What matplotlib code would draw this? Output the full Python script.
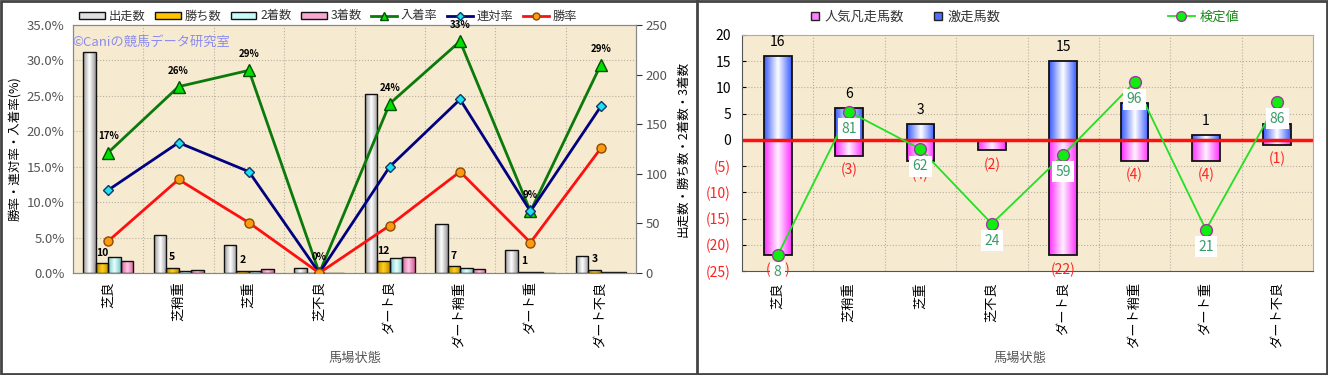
import numpy as np
import matplotlib
matplotlib.use('Agg')
import matplotlib.pyplot as plt
from matplotlib.colors import LinearSegmentedColormap
from matplotlib.lines import Line2D
from matplotlib.patches import Patch, Rectangle

plt.rcParams['font.family'] = ['Noto Sans CJK JP', 'DejaVu Sans']

# ---- data ----
baba = ['芝良', '芝稍重', '芝重', '芝不良', 'ダート良', 'ダート稍重', 'ダート重', 'ダート不良']

# left chart: counts
starts = [223, 38, 28, 5, 180, 49, 23, 17]
wins = [10, 5, 2, 0, 12, 7, 1, 3]
seconds = [16, 2, 2, 0, 15, 5, 1, 1]
thirds = [12, 3, 4, 0, 16, 4, 0, 1]
# left chart: rates (%)
win_rate = [4.5, 13.2, 7.1, 0.0, 6.7, 14.3, 4.3, 17.6]
rentai_rate = [11.7, 18.4, 14.3, 0.0, 15.0, 24.5, 8.7, 23.5]
show_rate = [17.0, 26.3, 28.6, 0.0, 23.9, 32.7, 8.7, 29.4]

# right chart
gekisou = [16, 6, 3, 0, 15, 7, 1, 3]
bonsou = [22, 3, 4, 2, 22, 4, 4, 1]
kentei = [8, 81, 62, 24, 59, 96, 21, 86]

BG = '#f6ead0'
GRID = '#b8b0a0'


def grad_fill(ax, bars, c_edge, c_mid):
    # cylinder-like horizontal gradient inside each bar
    cmap = LinearSegmentedColormap.from_list('g', [c_edge, c_mid, c_edge])
    g = np.linspace(0, 1, 64).reshape(1, -1)
    for b in bars:
        x, y = b.get_xy()
        w, h = b.get_width(), b.get_height()
        if h == 0:
            continue
        im = ax.imshow(g, cmap=cmap, extent=(x, x + w, y, y + h), aspect='auto',
                       interpolation='bilinear', zorder=b.get_zorder() - 0.01)
        im.set_clip_path(b)
        b.set_facecolor('none')


fig = plt.figure(figsize=(13.28, 3.75), dpi=100)
n = len(baba)
xc = np.arange(n) + 0.5

# ================= left chart =================
ax = fig.add_axes([73 / 1328, 1 - 273 / 375, 563 / 1328, 248 / 375])
ax.set_facecolor(BG)
ax.set_xlim(0, n)
ax.set_ylim(0, 250)
for k in range(1, n):
    ax.axvline(k, color=GRID, ls=':', lw=0.8, zorder=0.5)
for r in range(5, 35, 5):
    ax.axhline(r / 35 * 250, color=GRID, ls=':', lw=0.8, zorder=0.5)

bw = 0.178
specs = [(starts, '#9a9a9a', '#ffffff'),
         (wins, '#c48a00', '#ffd21a'),
         (seconds, '#78c8c8', '#e8ffff'),
         (thirds, '#d8609a', '#ffc8e4')]
for k, (vals, ce, cm) in enumerate(specs):
    bars = ax.bar(xc + (k - 1.5) * bw, vals, bw, edgecolor='#111111', lw=1.0, zorder=2)
    grad_fill(ax, bars, ce, cm)
for xi, v in zip(xc + (-0.5) * bw, wins):
    if v > 0:
        ax.annotate(str(v), (xi, v), xytext=(0, 4), textcoords='offset points',
                    ha='center', va='bottom', fontsize=7.5, fontweight='bold')
ax.set_xlim(0, n)
ax.set_ylim(0, 250)
ax.set_xticks(xc)
ax.set_xticklabels(baba, rotation=90, fontsize=9.5, va='top')
ax.tick_params(axis='x', length=0, pad=6)
for s in ax.spines.values():
    s.set_color('#888888')

ax2 = ax.twinx()
ax2.patch.set_visible(False)
ax2.set_ylim(0, 35)
ax2.yaxis.tick_left()
ax2.yaxis.set_label_position('left')
ax2.set_yticks(range(0, 36, 5))
ax2.set_yticklabels(['%.1f%%' % t for t in range(0, 36, 5)])
ax2.tick_params(axis='y', length=0, labelsize=9.5, labelcolor='#555555', pad=6)
ax2.set_ylabel('勝率・連対率・入着率(%)', fontsize=9, labelpad=4)
for s in ax2.spines.values():
    s.set_color('#888888')

# counts axis goes to the right side (twinx moved it left)
ax.yaxis.tick_right()
ax.yaxis.set_label_position('right')
ax.set_yticks(range(0, 251, 50))
ax.tick_params(axis='y', direction='out', length=4, labelsize=9.5, labelcolor='#555555',
               color='#333333', pad=3)
ax.set_ylabel('出走数・勝ち数・2着数・3着数', fontsize=9, rotation=90, labelpad=6)

ax2.plot(xc, show_rate, color='#0a7a0a', lw=2, marker='^', ms=8,
         mfc='#00e000', mec='#005000', zorder=3)
ax2.plot(xc, rentai_rate, color='#000080', lw=2, marker='D', ms=5,
         mfc='#22e0f0', mec='#0a3a6a', zorder=3)
ax2.plot(xc, win_rate, color='#ff1010', lw=2, marker='o', ms=6.5,
         mfc='#ff9a10', mec='#8a4a00', zorder=3)
for xi, v in zip(xc, show_rate):
    ax2.annotate('%d%%' % round(v), (xi, v), xytext=(0, 8), textcoords='offset points',
                 ha='center', va='bottom', fontsize=7, fontweight='bold')

ax2.text(-0.002, 0.93, '©Caniの競馬データ研究室', transform=ax2.transAxes,
         color='#8c8cf0', fontsize=9.5, ha='left', va='center')

fig.text(355 / 1328, 1 - 358 / 375, '馬場状態', ha='center', va='center',
         fontsize=9.5, color='#555555')

lh = [Patch(facecolor='#e0e0e0', edgecolor='#111111', label='出走数'),
      Patch(facecolor='#ffc400', edgecolor='#111111', label='勝ち数'),
      Patch(facecolor='#c8fafa', edgecolor='#111111', label='2着数'),
      Patch(facecolor='#f8a8d0', edgecolor='#111111', label='3着数'),
      Line2D([], [], color='#0a7a0a', lw=2, marker='^', ms=6, mfc='#00e000', mec='#005000', label='入着率'),
      Line2D([], [], color='#000080', lw=2, marker='D', ms=4, mfc='#22e0f0', mec='#0a3a6a', label='連対率'),
      Line2D([], [], color='#ff1010', lw=2, marker='o', ms=5, mfc='#ff9a10', mec='#8a4a00', label='勝率')]
leg = fig.legend(handles=lh, loc='center', bbox_to_anchor=(328 / 1328, 1 - 16 / 375), ncol=7,
                 frameon=False, fontsize=8.8, handlelength=2.1, handleheight=0.5,
                 columnspacing=0.8, handletextpad=0.3, borderpad=0)
for t in leg.get_texts():
    t.set_color('#333333')

# ================= right chart =================
bx = fig.add_axes([742 / 1328, 1 - 271 / 375, 571 / 1328, 236 / 375])
bx.set_facecolor(BG)
for k in range(1, n):
    bx.axvline(k, color=GRID, ls=':', lw=0.8, zorder=0.5)
for yv in range(-20, 20, 5):
    bx.axhline(yv, color=GRID, ls=':', lw=0.8, zorder=0.5)

bw2 = 0.39
up = bx.bar(xc, gekisou, bw2, edgecolor='#111111', lw=1.3, zorder=2)
grad_fill(bx, up, '#3a5cff', '#ffffff')
down = bx.bar(xc, [-v for v in bonsou], bw2, edgecolor='#111111', lw=1.3, zorder=2)
grad_fill(bx, down, '#ff30ff', '#fff2ff')
bx.axhline(0, color='#ff1010', lw=2.5, zorder=2.5)

for xi, v in zip(xc, gekisou):
    if v > 0:
        bx.annotate(str(v), (xi, v), xytext=(0, 5), textcoords='offset points',
                    ha='center', va='bottom', fontsize=10)
for xi, v in zip(xc, bonsou):
    if v > 0:
        bx.annotate('(%d)' % v, (xi, -v), xytext=(0, -5), textcoords='offset points',
                    ha='center', va='top', fontsize=10, color='#ff2020')

bx.set_xlim(0, n)
bx.set_ylim(-25, 20)
bx.set_xticks(xc)
bx.set_xticklabels(baba, rotation=90, fontsize=9.5, va='top')
bx.tick_params(axis='x', length=0, pad=8)
yt = list(range(-25, 21, 5))
bx.set_yticks(yt)
bx.set_yticklabels([str(t) if t >= 0 else '(%d)' % -t for t in yt])
bx.tick_params(axis='y', length=3, direction='in', labelsize=10, pad=8)
for lab, t in zip(bx.get_yticklabels(), yt):
    if t < 0:
        lab.set_color('#ff2020')
bx.spines['left'].set_color('#555555')
bx.spines['bottom'].set_color('#555555')
bx.spines['top'].set_color('#aaaaaa')
bx.spines['right'].set_color('#aaaaaa')

bx2 = bx.twinx()
bx2.patch.set_visible(False)
bx2.set_ylim(0, 120)
bx2.set_yticks([])
for s in bx2.spines.values():
    s.set_visible(False)
bx2.plot(xc, kentei, color='#22e022', lw=1.3, marker='o', ms=8.5,
         mfc='#10ee10', mec='#9a3a9a', mew=1.0, zorder=3)
for xi, v in zip(xc, kentei):
    bx2.annotate(str(v), (xi, v), xytext=(0, -17), textcoords='offset pixels',
                 ha='center', va='center', fontsize=10, color='#3a9a6a',
                 bbox=dict(boxstyle='square,pad=0.25', fc='white', ec='none'), zorder=4)

fig.text(1020 / 1328, 1 - 358 / 375, '馬場状態', ha='center', va='center',
         fontsize=9.5, color='#555555')

rh = [Line2D([], [], ls='none', marker='s', ms=6, mfc='#ff80ff', mec='#222222', label='人気凡走馬数'),
      Line2D([], [], ls='none', marker='s', ms=6, mfc='#5070ff', mec='#222222', label='激走馬数')]
leg2 = fig.legend(handles=rh, loc='center', bbox_to_anchor=(905 / 1328, 1 - 17 / 375), ncol=2,
                  frameon=False, fontsize=9.5, handlelength=0.8, columnspacing=2.2,
                  handletextpad=0.3, borderpad=0)
for t in leg2.get_texts():
    t.set_color('#333333')
gh = [Line2D([], [], color='#22e022', lw=1.3, marker='o', ms=7, mfc='#10ee10', mec='#9a3a9a', label='検定値')]
leg3 = fig.legend(handles=gh, loc='center', bbox_to_anchor=(1204 / 1328, 1 - 17 / 375),
                  frameon=False, fontsize=9.5, handlelength=2.0, handletextpad=0.4, borderpad=0)
for t in leg3.get_texts():
    t.set_color('#1a8a1a')

# panel borders
fig.add_artist(Rectangle((0.001, 0.002), 0.998, 0.996, transform=fig.transFigure,
                         fill=False, ec='#444444', lw=2))
fig.add_artist(Line2D([697 / 1328, 697 / 1328], [0, 1], transform=fig.transFigure,
                      color='#444444', lw=2))

fig.savefig('out.png', dpi=100)
